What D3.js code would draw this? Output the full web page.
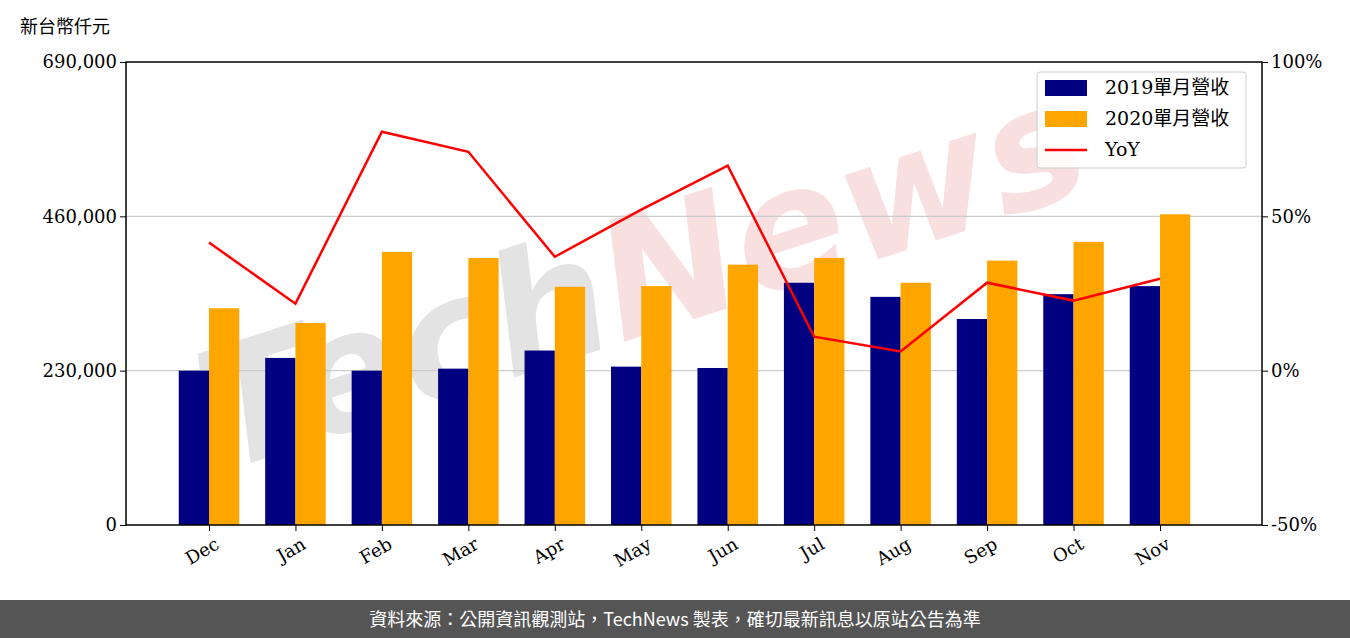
<!DOCTYPE html>
<html><head><meta charset="utf-8">
<script src="https://cdn.jsdelivr.net/npm/d3@7"></script>
<style>body{margin:0;background:#fff}</style>
</head><body><div id="chart"></div>
<script>
const months = ["Dec","Jan","Feb","Mar","Apr","May","Jun","Jul","Aug","Sep","Oct","Nov"];
const rev2019 = [230000,249000,230000,233000,260000,236000,234000,361000,340000,307000,344000,356000];
const rev2020 = [323000,301000,407000,398000,355000,356000,388000,398000,361000,394000,422000,463000];
const yoy = [41.5,21.7,77.4,70.9,36.9,52.2,66.4,11.0,6.2,28.5,22.7,29.8];
const leftTicks = [0,230000,460000,690000];
const rightTicks = [-50,0,50,100];

const W = 1350, H = 638;
const m = {left:126, right:1262, top:62, bottom:525};
const serif = "'DejaVu Serif', serif";
const svg = d3.select("#chart").append("svg").attr("width",W).attr("height",H);

const x = d3.scaleLinear().domain([-0.96,12.18]).range([m.left,m.right]);
const y = d3.scaleLinear().domain([0,690000]).range([m.bottom,m.top]);
const y2 = d3.scaleLinear().domain([-50,100]).range([m.bottom,m.top]);
const bw = x(0.35)-x(0);

// watermark
const wm = svg.append("text").attr("transform","translate(660,330) rotate(-18)")
    .attr("text-anchor","middle")
    .style("font-family","'DejaVu Sans', sans-serif").style("font-weight","bold")
    .style("font-size","165px").style("font-style","italic");
wm.append("tspan").attr("fill","#e3e3e3").text("Tech");
wm.append("tspan").attr("fill","#f8e0e0").text("News");

// grid
svg.append("g").selectAll("line").data(leftTicks.slice(1,3)).enter().append("line")
    .attr("x1",m.left).attr("x2",m.right).attr("y1",d=>y(d)).attr("y2",d=>y(d))
    .attr("stroke","#cccccc").attr("stroke-width",1.2);

svg.append("g").selectAll("rect").data(rev2019).enter().append("rect")
    .attr("x",(d,i)=>x(i)-bw).attr("width",bw).attr("y",d=>y(d)).attr("height",d=>y(0)-y(d))
    .attr("fill","#000080");
svg.append("g").selectAll("rect").data(rev2020).enter().append("rect")
    .attr("x",(d,i)=>x(i)).attr("width",bw).attr("y",d=>y(d)).attr("height",d=>y(0)-y(d))
    .attr("fill","#ffa500");

svg.append("path").datum(yoy)
    .attr("d",d3.line().x((d,i)=>x(i)).y(d=>y2(d)))
    .attr("fill","none").attr("stroke","#ff0000").attr("stroke-width",2.5);

// axes
const ax = svg.append("g").attr("transform","translate(0,"+m.bottom+")")
    .call(d3.axisBottom(x).tickValues(d3.range(12)).tickFormat(i=>months[i]).tickSizeOuter(0));
ax.selectAll("text").attr("transform","rotate(-30)").attr("text-anchor","end")
    .attr("dx","-0.1em").attr("dy","0.9em");
const ay = svg.append("g").attr("transform","translate("+m.left+",0)")
    .call(d3.axisLeft(y).tickValues(leftTicks).tickFormat(d3.format(",")).tickSizeOuter(0));
const ay2 = svg.append("g").attr("transform","translate("+m.right+",0)")
    .call(d3.axisRight(y2).tickValues(rightTicks).tickFormat(d=>d+"%").tickSizeOuter(0));
[ax,ay,ay2].forEach(g=>{
    g.selectAll("text").style("font-family",serif).style("font-size","18px").attr("fill","#000");
    g.selectAll(".tick line").attr("stroke","#000");
    g.select(".domain").attr("stroke","none");
});
svg.append("rect").attr("x",m.left).attr("y",m.top).attr("width",m.right-m.left).attr("height",m.bottom-m.top)
    .attr("fill","none").attr("stroke","#000").attr("stroke-width",1.5);

svg.append("text").attr("x",20).attr("y",33).text("新台幣仟元")
    .style("font-family","'Noto Sans CJK TC', sans-serif").style("font-size","18px");

// legend
const lg = svg.append("g").attr("transform","translate(1037,72)");
lg.append("rect").attr("width",209).attr("height",96).attr("rx",3)
    .attr("fill","#fff").attr("fill-opacity",0.85).attr("stroke","#ccc");
const items = [["2019單月營收","#000080","bar"],["2020單月營收","#ffa500","bar"],["YoY","#ff0000","line"]];
items.forEach((it,i)=>{
    const yy = 16 + i*31;
    if(it[2]==="bar") lg.append("rect").attr("x",8).attr("y",yy-8).attr("width",42).attr("height",16).attr("fill",it[1]);
    else lg.append("line").attr("x1",8).attr("x2",50).attr("y1",yy).attr("y2",yy).attr("stroke",it[1]).attr("stroke-width",2.5);
    lg.append("text").attr("x",68).attr("y",yy+6).text(it[0])
        .style("font-family",serif+", 'Noto Sans CJK TC'").style("font-size","19px");
});

// footer
svg.append("rect").attr("x",0).attr("y",600).attr("width",W).attr("height",38).attr("fill","#555555");
svg.append("text").attr("x",W/2).attr("y",626).attr("text-anchor","middle").attr("fill","#fff")
    .style("font-family","'Noto Sans CJK TC', sans-serif").style("font-size","18px")
    .text("資料來源：公開資訊觀測站，TechNews 製表，確切最新訊息以原站公告為準");
</script></body></html>
